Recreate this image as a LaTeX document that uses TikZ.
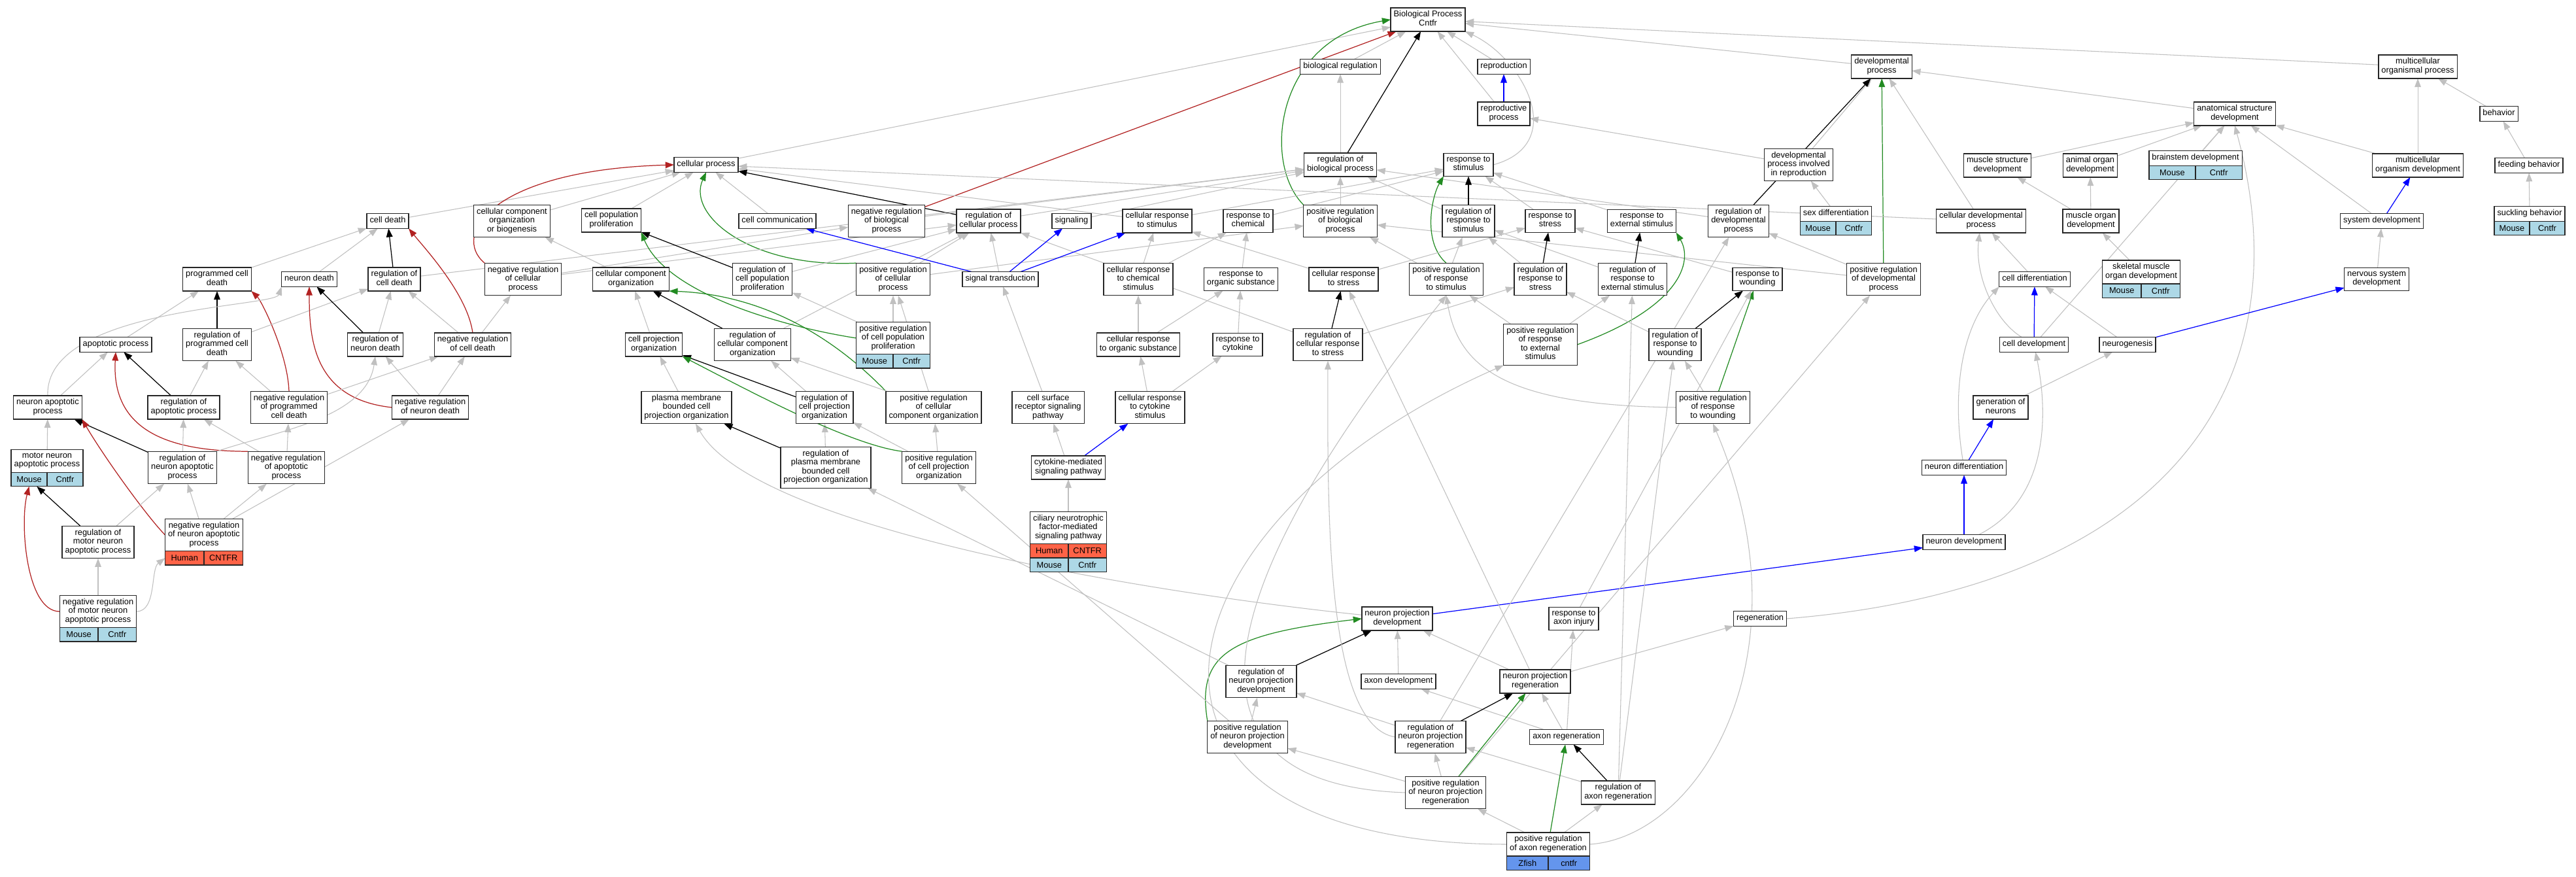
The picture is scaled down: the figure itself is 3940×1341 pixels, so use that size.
\documentclass[tikz,border=0pt]{standalone}
\usepackage{fontspec}
\setmainfont{Liberation Sans}
\usepackage{tikz}
\usetikzlibrary{arrows.meta,calc,positioning}
\definecolor{mouseblue}{HTML}{ADD8E6}
\definecolor{humanred}{HTML}{FF6347}
\definecolor{fishblue}{HTML}{6495ED}
\definecolor{negred}{HTML}{B22222}
\definecolor{posgreen}{HTML}{228B22}
\definecolor{isagray}{HTML}{C0C0C0}
\pgfdeclarelayer{edgelayer}
\pgfsetlayers{edgelayer,main}
\tikzstyle{term} = [rectangle, draw=black!85, line width=0.8pt, fill=white, align=center, inner xsep=2.6pt, inner ysep=2.6pt, outer sep=0pt, font=\fontsize{7.3}{7.7}\selectfont, execute at begin node=\strut, execute at end node=\strut]
\tikzstyle{genecell} = [rectangle, draw=black!85, line width=0.8pt, minimum height=12.1pt, inner sep=0pt, outer sep=0pt, font=\fontsize{7.3}{7.7}\selectfont]
\tikzstyle{isa} = [draw=isagray, line width=0.6pt, -{Triangle[length=7.5pt,width=5.5pt]}]
\tikzstyle{regl} = [draw=black, line width=0.7pt, -{Triangle[length=7.5pt,width=5.5pt]}]
\tikzstyle{negl} = [draw=negred, line width=0.7pt, -{Triangle[length=7.5pt,width=5.5pt]}]
\tikzstyle{posl} = [draw=posgreen, line width=0.7pt, -{Triangle[length=7.5pt,width=5.5pt]}]
\tikzstyle{partl} = [draw=blue, line width=0.7pt, -{Triangle[length=7.5pt,width=5.5pt]}]
\newcommand{\generow}[6]{%
  \path let \p1=($(#1.east)-(#1.west)$) in
    node[genecell, fill=#6, minimum width=0.5*\x1, anchor=north west] (#3a) at ($(#1.south west)+(0pt,-#2)$) {#4}
    node[genecell, fill=#6, minimum width=0.5*\x1, anchor=north east] (#3b) at ($(#1.south east)+(0pt,-#2)$) {#5};}

\begin{document}
\begin{tikzpicture}[x=0.02cm, y=-0.02cm]
\useasboundingbox (0,0) rectangle (3940,1341);

\node (bp) [term] at (2184,30) {Biological Process\\Cntfr};
\node (bioreg) [term] at (2050,102) {biological regulation};
\node (repro) [term] at (2300,102) {reproduction};
\node (devproc) [term] at (2878,102) {developmental\\process};
\node (mcop) [term] at (3698,102) {multicellular\\organismal process};
\node (reproproc) [term] at (2300,174) {reproductive\\process};
\node (asd) [term] at (3418,174) {anatomical structure\\development};
\node (behav) [term] at (3822,174) {behavior};
\node (cellproc) [term] at (1080,252) {cellular process};
\node (regbp) [term] at (2050,252) {regulation of\\biological process};
\node (respstim) [term] at (2246,252) {response to\\stimulus};
\node (dpir) [term] at (2751,252) {developmental\\process involved\\in reproduction};
\node (musstr) [term] at (3055,253) {muscle structure\\development};
\node (animorg) [term] at (3197,253) {animal organ\\development};
\node (brainstem) [term] at (3358,242) {brainstem development};
\node (mcod) [term] at (3698,253) {multicellular\\organism development};
\node (feeding) [term] at (3868,253) {feeding behavior};

\node (celldeath) [term] at (593,338) {cell death};
\node (ccob) [term] at (783,338) {cellular component\\organization\\or biogenesis};
\node (cpp) [term] at (935,337) {cell population\\proliferation};
\node (cellcomm) [term] at (1189,338) {cell communication};
\node (nrbp) [term] at (1356,338) {negative regulation\\of biological\\process};
\node (regcp) [term] at (1512,338) {regulation of\\cellular process};
\node (signaling) [term] at (1639,338) {signaling};
\node (crstim) [term] at (1770,338) {cellular response\\to stimulus};
\node (respchem) [term] at (1909,338) {response to\\chemical};
\node (prbp) [term] at (2050,338) {positive regulation\\of biological\\process};
\node (regrs) [term] at (2246,338) {regulation of\\response to\\stimulus};
\node (respstress) [term] at (2371,338) {response to\\stress};
\node (resext) [term] at (2511,338) {response to\\external stimulus};
\node (regdev) [term] at (2659,338) {regulation of\\developmental\\process};
\node (sexdiff) [term] at (2808,327) {sex differentiation};
\node (celldev) [term] at (3030,338) {cellular developmental\\process};
\node (musorg) [term] at (3198,338) {muscle organ\\development};
\node (sysdev) [term] at (3643,338) {system development};
\node (suckling) [term] at (3869,327) {suckling behavior};

\node (pcd) [term] at (332,427) {programmed cell\\death};
\node (neurdeath) [term] at (473,427) {neuron death};
\node (regcd) [term] at (603,427) {regulation of\\cell death};
\node (nrcp) [term] at (800,427) {negative regulation\\of cellular\\process};
\node (cco) [term] at (965,427) {cellular component\\organization};
\node (rcpp) [term] at (1166,427) {regulation of\\cell population\\proliferation};
\node (prcp) [term] at (1366,427) {positive regulation\\of cellular\\process};
\node (sigtrans) [term] at (1530,427) {signal transduction};
\node (crchem) [term] at (1741,427) {cellular response\\to chemical\\stimulus};
\node (resorg) [term] at (1898,427) {response to\\organic substance};
\node (crstress) [term] at (2055,427) {cellular response\\to stress};
\node (prrs) [term] at (2212,427) {positive regulation\\of response\\to stimulus};
\node (rrstress) [term] at (2356,427) {regulation of\\response to\\stress};
\node (rrext) [term] at (2497,427) {regulation of\\response to\\external stimulus};
\node (respwound) [term] at (2688,427) {response to\\wounding};
\node (prdp) [term] at (2881,427) {positive regulation\\of developmental\\process};
\node (skmus) [term] at (3275,416) {skeletal muscle\\organ development};
\node (celldiff) [term] at (3112,427) {cell differentiation};
\node (nsd) [term] at (3635,427) {nervous system\\development};

\node (apop) [term] at (177,527) {apoptotic process};
\node (rpcd) [term] at (332,527) {regulation of\\programmed cell\\death};
\node (rnd) [term] at (574,527) {regulation of\\neuron death};
\node (nrcd) [term] at (723,527) {negative regulation\\of cell death};
\node (cpo) [term] at (1000,527) {cell projection\\organization};
\node (rcco) [term] at (1151,527) {regulation of\\cellular component\\organization};
\node (prcpp) [term] at (1366,517) {positive regulation\\of cell population\\proliferation};
\node (crorg) [term] at (1741,527) {cellular response\\to organic substance};
\node (respcyt) [term] at (1893,527) {response to\\cytokine};
\node (rcrs) [term] at (2031,527) {regulation of\\cellular response\\to stress};
\node (prrext) [term] at (2356,527) {positive regulation\\of response\\to external\\stimulus};
\node (rrw) [term] at (2562,527) {regulation of\\response to\\wounding};
\node (celldevt) [term] at (3111,527) {cell development};
\node (neurogen) [term] at (3254,527) {neurogenesis};

\node (nap) [term] at (73,623) {neuron apoptotic\\process};
\node (rap) [term] at (281,623) {regulation of\\apoptotic process};
\node (nrpcd) [term] at (442,623) {negative regulation\\of programmed\\cell death};
\node (nrnd) [term] at (658,623) {negative regulation\\of neuron death};
\node (pmb) [term] at (1050,623) {plasma membrane\\bounded cell\\projection organization};
\node (rcpo) [term] at (1261,623) {regulation of\\cell projection\\organization};
\node (prcco) [term] at (1428,623) {positive regulation\\of cellular\\component organization};
\node (csrsp) [term] at (1603,623) {cell surface\\receptor signaling\\pathway};
\node (crcyt) [term] at (1759,623) {cellular response\\to cytokine\\stimulus};
\node (prrw) [term] at (2620,623) {positive regulation\\of response\\to wounding};
\node (genneur) [term] at (3060,623) {generation of\\neurons};

\node (mnap) [term] at (72,705) {motor neuron\\apoptotic process};
\node (rnap) [term] at (279,715) {regulation of\\neuron apoptotic\\process};
\node (nrap) [term] at (438,715) {negative regulation\\of apoptotic\\process};
\node (rpmb) [term] at (1263,715) {regulation of\\plasma membrane\\bounded cell\\projection organization};
\node (prcpo) [term] at (1436,715) {positive regulation\\of cell projection\\organization};
\node (cmsp) [term] at (1634,715) {cytokine-mediated\\signaling pathway};
\node (neurdiff) [term] at (3004,715) {neuron differentiation};

\node (rmnap) [term] at (150,829) {regulation of\\motor neuron\\apoptotic process};
\node (nrnap) [term] at (312,818) {negative regulation\\of neuron apoptotic\\process};
\node (cnf) [term] at (1634,807) {ciliary neurotrophic\\factor-mediated\\signaling pathway};
\node (neurdevt) [term] at (3004,829) {neuron development};

\node (nrmnap) [term] at (150,935) {negative regulation\\of motor neuron\\apoptotic process};
\node (npd) [term] at (2137,946) {neuron projection\\development};
\node (rai) [term] at (2407,946) {response to\\axon injury};
\node (regen) [term] at (2692,946) {regeneration};
\node (rnpd) [term] at (1929,1042) {regulation of\\neuron projection\\development};
\node (axdev) [term] at (2139,1042) {axon development};
\node (npr) [term] at (2348,1042) {neuron projection\\regeneration};
\node (prnpd) [term] at (1908,1127) {positive regulation\\of neuron projection\\development};
\node (rnpr) [term] at (2188,1127) {regulation of\\neuron projection\\regeneration};
\node (axreg) [term] at (2396,1127) {axon regeneration};
\node (prnpr) [term] at (2211,1212) {positive regulation\\of neuron projection\\regeneration};
\node (rar) [term] at (2475,1212) {regulation of\\axon regeneration};
\node (prar) [term] at (2368,1291) {positive regulation\\of axon regeneration};

\generow{brainstem}{0pt}{brainstemg}{Mouse}{Cntfr}{mouseblue}
\generow{sexdiff}{0pt}{sexdiffg}{Mouse}{Cntfr}{mouseblue}
\generow{suckling}{0pt}{sucklingg}{Mouse}{Cntfr}{mouseblue}
\generow{skmus}{0pt}{skmusg}{Mouse}{Cntfr}{mouseblue}
\generow{prcpp}{0pt}{prcppg}{Mouse}{Cntfr}{mouseblue}
\generow{mnap}{0pt}{mnapg}{Mouse}{Cntfr}{mouseblue}
\generow{nrmnap}{0pt}{nrmnapg}{Mouse}{Cntfr}{mouseblue}
\generow{nrnap}{0pt}{nrnapg}{Human}{CNTFR}{humanred}
\generow{cnf}{0pt}{cnfh}{Human}{CNTFR}{humanred}
\generow{cnf}{12.1pt}{cnfm}{Mouse}{Cntfr}{mouseblue}
\generow{prar}{0pt}{prarg}{Zfish}{cntfr}{fishblue}

\begin{pgfonlayer}{edgelayer}
\fill[white] (0,0) rectangle (3940,1341);
\draw[isa] (cellproc) -- (bp);
\draw[isa] (bioreg) -- (bp);
\draw[isa] (repro) -- (bp);
\draw[isa] (reproproc) -- (bp);
\draw[isa] (respstim.east) .. controls (2400,220) and (2330,90) .. (bp.south east);
\draw[isa] (devproc) -- (bp);
\draw[isa] (mcop) -- (bp);
\draw[regl] (regbp) -- (bp);
\draw[negl] (nrbp) -- (bp);
\draw[posl] (prbp.north west) .. controls (1930,250) and (1950,60) .. (bp.west);
\draw[isa] (regbp) -- (bioreg);
\draw[partl] (reproproc) -- (repro);
\draw[isa] (dpir) -- (reproproc);
\draw[isa] (dpir) -- (devproc);
\draw[isa] (asd) -- (devproc);
\draw[isa] (celldev) -- (devproc);
\draw[regl] (regdev) -- (devproc);
\draw[posl] (prdp) -- (devproc);
\draw[isa] (sexdiff) -- (dpir);
\draw[isa] (behav) -- (mcop);
\draw[isa] (mcod) -- (mcop);
\draw[isa] (mcod) -- (asd);
\draw[isa] (feeding) -- (behav);
\draw[isa] (suckling) -- (feeding);
\draw[isa] (musstr) -- (asd);
\draw[isa] (animorg) -- (asd);
\draw[isa] (brainstem) -- (asd);
\draw[isa] (sysdev) -- (asd);
\draw[isa] (celldevt) -- (asd);
\draw[isa] (regen.east) .. controls (3300,900) and (3530,600) .. (asd.south);
\draw[isa] (musorg) -- (musstr);
\draw[isa] (musorg) -- (animorg);
\draw[isa] (skmus) -- (musorg);
\draw[partl] (sysdev) -- (mcod);
\draw[isa] (nsd) -- (sysdev);
\draw[partl] (neurogen) -- (nsd);
\draw[isa] (celldiff) -- (celldev);
\draw[isa] (celldevt) .. controls (3050,490) and (3020,420) .. (celldev);
\draw[partl] (celldevt) -- (celldiff);
\draw[isa] (neurogen) -- (celldiff);
\draw[isa] (neurdiff) .. controls (2985,600) and (3000,500) .. (celldiff.south west);
\draw[isa] (genneur) -- (neurogen);
\draw[partl] (neurdiff) -- (genneur);
\draw[partl] (neurdevt) -- (neurdiff);
\draw[isa] (neurdevt) .. controls (3140,760) and (3130,620) .. (celldevt);
\draw[partl] (npd) -- (neurdevt);

\draw[isa] (celldeath) -- (cellproc);
\draw[isa] (ccob) -- (cellproc);
\draw[isa] (cpp) -- (cellproc);
\draw[isa] (cellcomm) -- (cellproc);
\draw[isa] (crstim) -- (cellproc);
\draw[isa] (celldev) -- (cellproc);
\draw[regl] (regcp) -- (cellproc);
\draw[negl] (nrcp.north west) .. controls (690,360) and (750,260) .. (cellproc.west);
\draw[posl] (prcp.north west) .. controls (1150,410) and (1050,330) .. (cellproc.south);
\draw[isa] (prbp) -- (regbp);
\draw[isa] (nrbp) -- (regbp);
\draw[isa] (regcp) -- (regbp);
\draw[isa] (regcd) -- (regbp);
\draw[isa] (signaling) -- (regbp);
\draw[isa] (regdev) -- (regbp);
\draw[isa] (regrs) -- (regbp);
\draw[isa] (nrcp) -- (nrbp);
\draw[isa] (nrcp) -- (regcp);
\draw[isa] (prcp) -- (regcp);
\draw[isa] (rcpp) -- (regcp);
\draw[isa] (rcco) -- (regcp);
\draw[isa] (sigtrans) -- (regcp);
\draw[isa] (rcrs) -- (regcp);
\draw[isa] (prcp) -- (prbp);
\draw[isa] (prrs) -- (prbp);
\draw[isa] (prdp) -- (prbp);
\draw[isa] (prdp) -- (regdev);
\draw[isa] (crstim) -- (respstim);
\draw[isa] (respchem) -- (respstim);
\draw[isa] (respstress) -- (respstim);
\draw[isa] (resext) -- (respstim);
\draw[regl] (regrs) -- (respstim);
\draw[posl] (prrs.north) .. controls (2175,370) and (2190,300) .. (respstim.south west);
\draw[isa] (rrstress) -- (regrs);
\draw[isa] (rrext) -- (regrs);
\draw[isa] (prrs) -- (regrs);
\draw[partl] (sigtrans) -- (cellcomm);
\draw[partl] (sigtrans) -- (signaling);
\draw[partl] (sigtrans) -- (crstim);
\draw[isa] (csrsp) -- (sigtrans);

\draw[isa] (crchem) -- (crstim);
\draw[isa] (crchem) -- (respchem);
\draw[isa] (resorg) -- (respchem);
\draw[isa] (crstress) -- (crstim);
\draw[isa] (crstress) -- (respstress);
\draw[isa] (respwound) -- (respstress);
\draw[regl] (rrstress) -- (respstress);
\draw[regl] (rrext) -- (resext);
\draw[posl] (prrext.east) .. controls (2570,470) and (2590,400) .. (resext.south east);
\draw[isa] (crorg) -- (crchem);
\draw[isa] (crorg) -- (resorg);
\draw[isa] (respcyt) -- (resorg);
\draw[isa] (crcyt) -- (crorg);
\draw[isa] (crcyt) -- (respcyt);
\draw[partl] (cmsp) -- (crcyt);
\draw[isa] (cmsp) -- (csrsp);
\draw[isa] (cnf) -- (cmsp);
\draw[regl] (rcrs) -- (crstress);
\draw[isa] (rcrs) -- (rrstress);
\draw[isa] (prrext) -- (rrext);
\draw[isa] (prrext) -- (prrs);
\draw[isa] (rrw) -- (rrstress);
\draw[regl] (rrw) -- (respwound);
\draw[isa] (prrw) -- (rrw);
\draw[posl] (prrw) -- (respwound);
\draw[isa] (prrw.west) .. controls (2300,620) and (2230,560) .. (prrs.south);
\draw[isa] (rai) -- (respwound);

\draw[isa] (pcd) -- (celldeath);
\draw[isa] (neurdeath) -- (celldeath);
\draw[regl] (regcd) -- (celldeath);
\draw[negl] (nrcd.north) .. controls (715,450) and (650,380) .. (celldeath.south east);
\draw[isa] (apop) -- (pcd);
\draw[regl] (rpcd) -- (pcd);
\draw[negl] (nrpcd.north) .. controls (440,540) and (400,460) .. (pcd.south east);
\draw[isa] (rpcd) -- (regcd);
\draw[isa] (rnd) -- (regcd);
\draw[isa] (nrcd) -- (regcd);
\draw[isa] (nrcd) -- (nrcp);
\draw[regl] (rnd) -- (neurdeath);
\draw[negl] (nrnd.west) .. controls (480,610) and (473,520) .. (neurdeath.south);
\draw[isa] (nap) -- (apop);
\draw[isa] (nap.north) .. controls (68,470) and (420,470) .. (neurdeath.south west);
\draw[regl] (rap) -- (apop);
\draw[negl] (nrap.north west) .. controls (260,690) and (170,660) .. (apop.south);
\draw[isa] (rap) -- (rpcd);
\draw[isa] (nrpcd) -- (rpcd);
\draw[isa] (nrpcd) -- (nrcd);
\draw[isa] (nrnd) -- (rnd);
\draw[isa] (nrnd) -- (nrcd);
\draw[isa] (mnap) -- (nap);
\draw[regl] (rnap) -- (nap);
\draw[negl] (nrnap.west) .. controls (225,790) and (160,700) .. (nap.south east);
\draw[isa] (rnap) -- (rap);
\draw[isa] (rnap.north east) .. controls (420,660) and (560,640) .. (rnd.south);
\draw[isa] (nrap) -- (rap);
\draw[isa] (nrap) -- (nrpcd);
\draw[isa] (rmnap) -- (rnap);
\draw[isa] (nrnap) -- (rnap);
\draw[isa] (nrnap) -- (nrap);
\draw[isa] (nrnap) -- (nrnd);
\draw[regl] (rmnap) -- (mnapga);
\draw[isa] (nrmnap) -- (rmnap);
\draw[negl] (nrmnap.west) .. controls (40,935) and (30,800) .. (mnapga.south);
\draw[isa] (nrmnap.east) .. controls (240,935) and (230,870) .. (nrnapga.west);

\draw[isa] (cco) -- (ccob);
\draw[isa] (cpo) -- (cco);
\draw[regl] (rcco) -- (cco);
\draw[posl] (prcco.north west) .. controls (1260,500) and (1150,450) .. (cco.south east);
\draw[regl] (rcpp) -- (cpp);
\draw[posl] (prcpp.west) .. controls (1200,500) and (1020,450) .. (cpp.south east);
\draw[isa] (prcpp) -- (rcpp);
\draw[isa] (prcpp) -- (prcp);
\draw[isa] (rcpo) -- (rcco);
\draw[isa] (prcco) -- (rcco);
\draw[isa] (prcco) -- (prcp);
\draw[regl] (rcpo) -- (cpo);
\draw[isa] (pmb) -- (cpo);
\draw[regl] (rpmb) -- (pmb);
\draw[isa] (rpmb) -- (rcpo);
\draw[isa] (prcpo) -- (rcpo);
\draw[isa] (prcpo) -- (prcco);
\draw[posl] (prcpo.north west) .. controls (1300,680) and (1150,600) .. (cpo.south east);

\draw[isa] (npd) .. controls (1700,900) and (1150,800) .. (pmb);
\draw[isa] (axdev) -- (npd);
\draw[isa] (npr) -- (npd);
\draw[regl] (rnpd) -- (npd);
\draw[posl] (prnpd.north west) .. controls (1830,1000) and (1880,970) .. (npd.west);
\draw[isa] (rnpd) -- (rpmb);
\draw[isa] (prnpd) -- (rnpd);
\draw[isa] (prnpd) -- (prcpo);
\draw[isa] (npr) -- (regen);
\draw[isa] (npr) -- (crstress);
\draw[isa] (axreg) -- (npr);
\draw[isa] (axreg) -- (rai);
\draw[isa] (axreg) -- (axdev);
\draw[regl] (rnpr) -- (npr);
\draw[isa] (rnpr) -- (rnpd);
\draw[isa] (rnpr.west) .. controls (2030,1110) and (2030,800) .. (rcrs.south);
\draw[isa] (rnpr) -- (regdev);
\draw[regl] (rar) -- (axreg);
\draw[isa] (rar) -- (rnpr);
\draw[isa] (rar) -- (rrext);
\draw[isa] (rar) -- (rrw);
\draw[posl] (prnpr) -- (npr);
\draw[isa] (prnpr) -- (rnpr);
\draw[isa] (prnpr) -- (prnpd);
\draw[isa] (prnpr) -- (prdp);
\draw[isa] (prnpr.west) .. controls (1780,1200) and (1850,900) .. (prrs.south);
\draw[posl] (prar) -- (axreg);
\draw[isa] (prar) -- (prnpr);
\draw[isa] (prar) -- (rar);
\draw[isa] (prar.east) .. controls (2600,1280) and (2770,1000) .. (prrw.south);
\draw[isa] (prar.west) .. controls (1650,1290) and (1750,800) .. (prrext.south west);
\end{pgfonlayer}
\end{tikzpicture}
\end{document}
